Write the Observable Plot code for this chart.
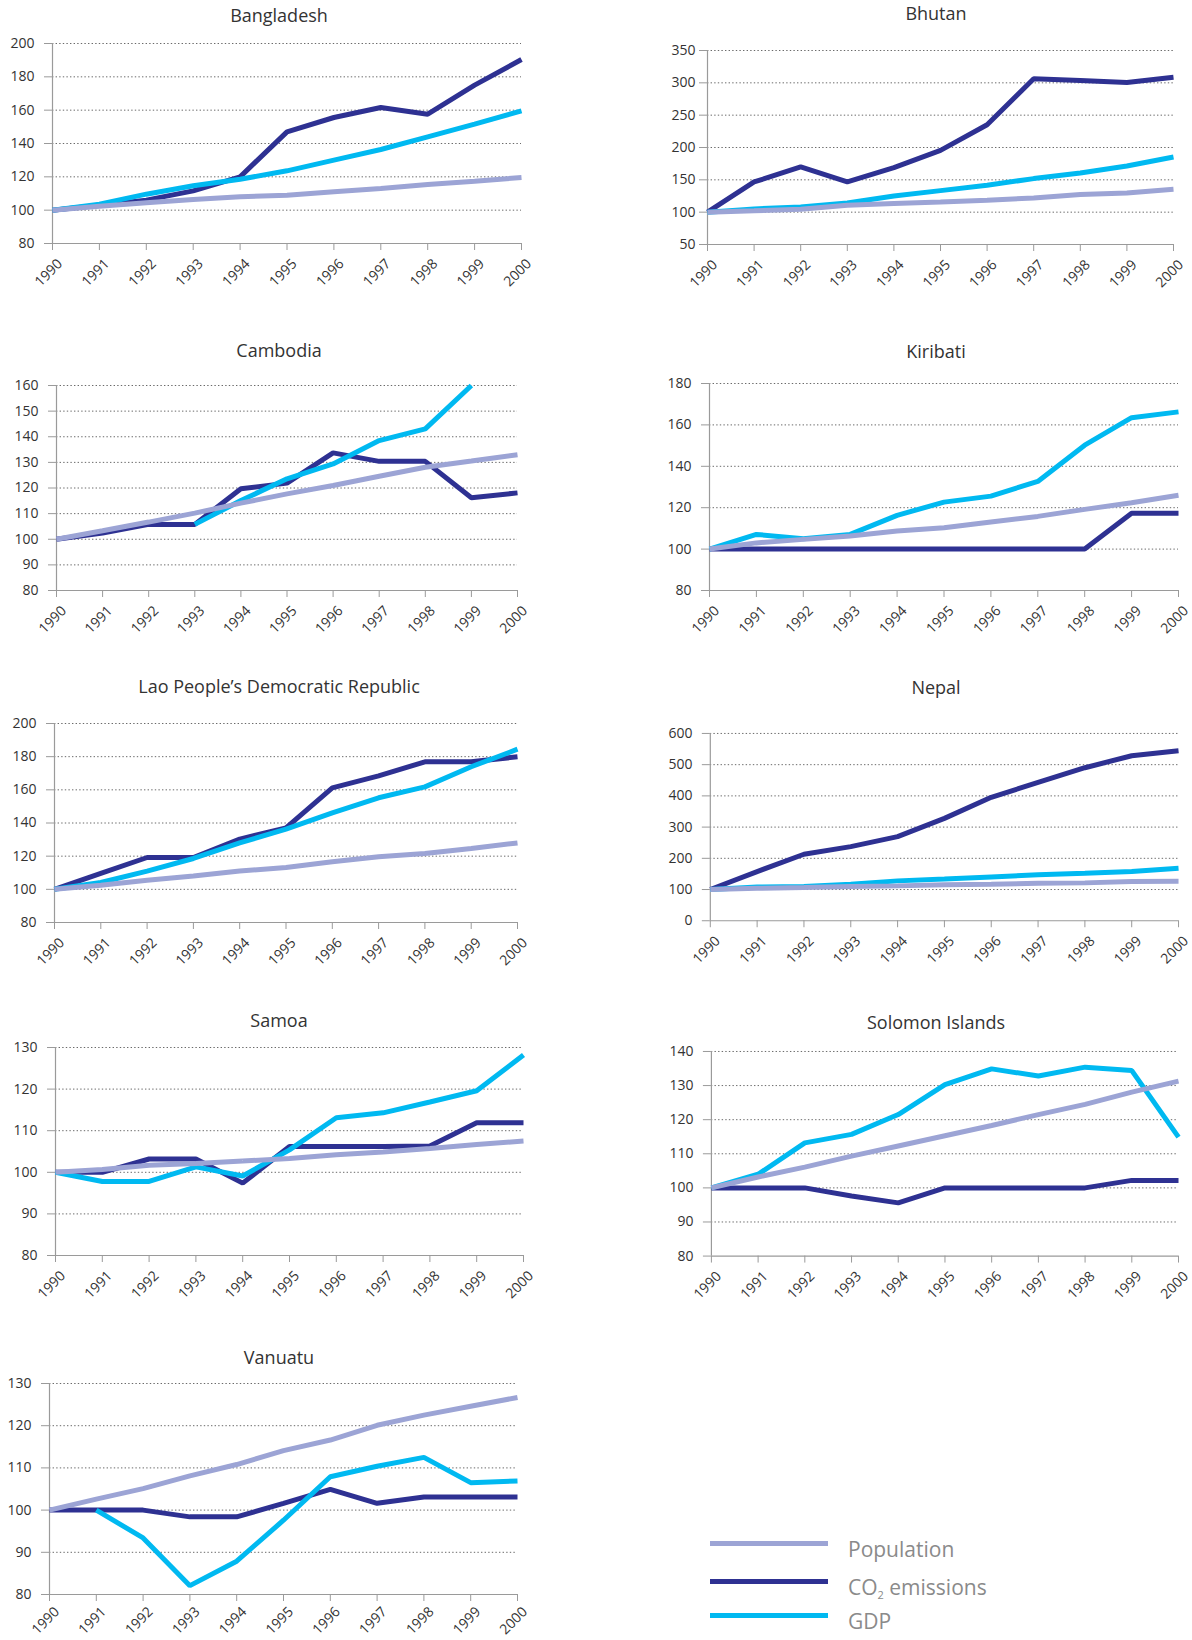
<!DOCTYPE html>
<html>
<head>
<meta charset="utf-8">
<script src="https://cdn.jsdelivr.net/npm/d3@7"></script>
<script src="https://cdn.jsdelivr.net/npm/@observablehq/plot@0.6"></script>
<style>
  body { margin: 0; background: #fff; font-family: "Open Sans", Lato, sans-serif; }
  #page { position: relative; width: 1192px; height: 1640px; overflow: hidden; }
  .panel { position: absolute; }
  .title { position: absolute; width: 460px; margin-left: -230px; text-align: center;
           font-size: 18px; color: #333; line-height: 22px; }
  .legend-bar { position: absolute; height: 5px; }
  .legend-text { position: absolute; font-size: 21px; color: #8a8a8a; line-height: 24px; }
  .legend-text sub { font-size: 11px; vertical-align: -4px; }
</style>
</head>
<body>
<div id="page"></div>
<script>
// Index values, 1990 = 100
const years = [1990, 1991, 1992, 1993, 1994, 1995, 1996, 1997, 1998, 1999, 2000];

const countries = [
  "Bangladesh", "Bhutan", "Cambodia", "Kiribati",
  "Lao People\u2019s Democratic Republic", "Nepal",
  "Samoa", "Solomon Islands", "Vanuatu"
];

const bangladeshPopulation = [100, 102.4, 104.4, 106.4, 108, 109, 111, 113, 115.4, 117.4, 119.6];
const bangladeshCO2        = [100, 103, 106, 111.6, 120, 147, 155.6, 161.6, 157.6, 175, 190.4];
const bangladeshGDP        = [100, 103.6, 109.6, 114.6, 118.6, 123.6, 130, 136.4, 144, 151.6, 159.6];
const bangladeshTicks      = [80, 100, 120, 140, 160, 180, 200];

const bhutanPopulation = [100, 102, 104.5, 110.7, 113.3, 115.8, 118.4, 122, 127.2, 129.7, 135.4];
const bhutanCO2        = [100, 146.7, 169.9, 146.7, 168.8, 195.6, 235.2, 306.3, 303.7, 300.6, 308.8];
const bhutanGDP        = [100, 105, 108, 114.3, 125, 133.3, 141.6, 151.9, 160.6, 171.4, 185.3];
const bhutanTicks      = [50, 100, 150, 200, 250, 300, 350];

const cambodiaPopulation = [100, 103.3, 106.7, 110.2, 114.1, 117.7, 121, 124.6, 128.1, 130.5, 133];
const cambodiaCO2        = [100, 102.4, 105.8, 105.8, 119.7, 121.9, 133.7, 130.4, 130.4, 116.2, 118.1];
const cambodiaGDP        = [null, null, null, 105.8, 115.1, 123.6, 129.4, 138.5, 143.1, 160, null];
const cambodiaTicks      = [80, 90, 100, 110, 120, 130, 140, 150, 160];

const kiribatiPopulation = [100, 103, 104.7, 106.3, 108.7, 110.3, 113.1, 115.8, 119.2, 122.4, 126];
const kiribatiCO2        = [100, 100, 100, 100, 100, 100, 100, 100, 100, 117.3, 117.3];
const kiribatiGDP        = [100, 107.1, 105, 107.1, 116.3, 122.7, 125.6, 132.7, 150.2, 163.5, 166.3];
const kiribatiTicks      = [80, 100, 120, 140, 160, 180];

const laoPopulation = [100, 102.5, 105.5, 108, 111, 113.2, 116.6, 119.6, 121.6, 124.6, 128];
const laoCO2        = [100, 109.6, 119.2, 119.2, 130.3, 137.1, 161.2, 168.4, 176.9, 176.9, 179.9];
const laoGDP        = [100, 104.1, 111, 118.6, 128, 136.3, 146.1, 155.2, 161.8, 173.9, 184.5];
const laoTicks      = [80, 100, 120, 140, 160, 180, 200];

const nepalPopulation = [100, 104, 106.4, 109.6, 111.7, 115, 117, 120.3, 121.3, 125.6, 126.7];
const nepalCO2        = [100, 157.6, 213, 237.5, 269.5, 328, 395.3, 443.3, 490.2, 528.6, 544.6];
const nepalGDP        = [100, 108, 109.6, 117, 127.7, 134, 140.5, 147, 152, 157.6, 168];
const nepalTicks      = [0, 100, 200, 300, 400, 500, 600];

const samoaPopulation = [100, 100.7, 101.7, 102.1, 102.7, 103.3, 104.2, 104.9, 105.7, 106.7, 107.5];
const samoaCO2        = [100, 100, 103.2, 103.2, 97.4, 106.2, 106.2, 106.2, 106.3, 111.9, 111.9];
const samoaGDP        = [100, 97.8, 97.8, 101.3, 99.1, 105.4, 113.1, 114.3, 116.9, 119.6, 128.2];
const samoaTicks      = [80, 90, 100, 110, 120, 130];

const solomonPopulation = [100, 103.2, 106.1, 109.3, 112.3, 115.3, 118.3, 121.5, 124.5, 128.1, 131.3];
const solomonCO2        = [100, 100, 100, 97.6, 95.6, 100, 100, 100, 100, 102.2, 102.2];
const solomonGDP        = [100, 104, 113.2, 115.7, 121.5, 130.3, 134.9, 132.8, 135.4, 134.4, 114.9];
const solomonTicks      = [80, 90, 100, 110, 120, 130, 140];

const vanuatuPopulation = [100, 102.6, 105.1, 108.1, 110.8, 114.1, 116.6, 120.1, 122.5, 124.6, 126.7];
const vanuatuCO2        = [100, 100, 100, 98.4, 98.4, 101.6, 104.9, 101.6, 103.1, 103.1, 103.1];
const vanuatuGDP        = [null, 100, 93.4, 82.1, 87.9, 97.6, 107.9, 110.4, 112.5, 106.5, 106.9];
const vanuatuTicks      = [80, 90, 100, 110, 120, 130];

const seriesColors = ["#9ca4d5", "#2e3192", "#00b9f1"];

// Series bundled per country, in the order of the country list
const panelData = [
  [bangladeshPopulation, bangladeshCO2, bangladeshGDP, bangladeshTicks],
  [bhutanPopulation, bhutanCO2, bhutanGDP, bhutanTicks],
  [cambodiaPopulation, cambodiaCO2, cambodiaGDP, cambodiaTicks],
  [kiribatiPopulation, kiribatiCO2, kiribatiGDP, kiribatiTicks],
  [laoPopulation, laoCO2, laoGDP, laoTicks],
  [nepalPopulation, nepalCO2, nepalGDP, nepalTicks],
  [samoaPopulation, samoaCO2, samoaGDP, samoaTicks],
  [solomonPopulation, solomonCO2, solomonGDP, solomonTicks],
  [vanuatuPopulation, vanuatuCO2, vanuatuGDP, vanuatuTicks]
];

// Plot-frame placement on the page: left, top, width, height, title centre y,
// y-label padding and year-label drop below the axis
const frames = [
  {left: 52,  top: 43,   width: 469, height: 200, titleY: 15,   pad: 10, drop: 18},
  {left: 707, top: 50,   width: 466, height: 194, titleY: 13,   pad: 4,  drop: 18},
  {left: 56,  top: 385,  width: 461, height: 205, titleY: 350,  pad: 10, drop: 18},
  {left: 709, top: 383,  width: 469, height: 207, titleY: 351,  pad: 10, drop: 18},
  {left: 54,  top: 723,  width: 463, height: 199, titleY: 686,  pad: 10, drop: 18},
  {left: 710, top: 733,  width: 470, height: 188, titleY: 687,  pad: 10, drop: 18},
  {left: 55,  top: 1047, width: 468, height: 208, titleY: 1020, pad: 10, drop: 18},
  {left: 711, top: 1051, width: 468, height: 205, titleY: 1022, pad: 10, drop: 18},
  {left: 49,  top: 1383, width: 468, height: 211, titleY: 1357, pad: 10, drop: 15}
];

const page = document.getElementById("page");
const mL = 56, mR = 14, mT = 12, mB = 62;
const font = "'Open Sans', Lato, sans-serif";

countries.forEach((name, k) => {
  const [pop, co2, gdp, ticks] = panelData[k];
  const f = frames[k];
  const rows = (arr) => years.map((year, i) => ({year, value: arr[i]}));
  const lineOpts = (color) => ({
    x: "year", y: "value", stroke: color, strokeWidth: 5,
    strokeLinejoin: "miter", strokeLinecap: "butt"
  });

  const chart = Plot.plot({
    width: f.width + mL + mR,
    height: f.height + mT + mB,
    marginLeft: mL, marginRight: mR, marginTop: mT, marginBottom: mB,
    x: {domain: [1990, 2000]},
    y: {domain: [ticks[0], ticks[ticks.length - 1]]},
    style: {fontFamily: font, fontSize: "14px", color: "#333", background: "transparent", overflow: "visible"},
    marks: [
      Plot.gridY(ticks.slice(1), {stroke: "#6a6a6a", strokeOpacity: 1, strokeDasharray: "1.4,2.2"}),
      Plot.ruleY([ticks[0]], {stroke: "#9a9a9a", strokeWidth: 1.2}),
      Plot.ruleX([1990], {stroke: "#9a9a9a", strokeWidth: 1.2}),
      Plot.axisY(ticks, {tickSize: 8, tickPadding: f.pad, stroke: "#9a9a9a", fill: "#333",
                         fontSize: 14, label: null}),
      // year ticks; the slanted year labels are a separate text mark
      Plot.axisX(years, {tickSize: 7, stroke: "#9a9a9a", tickFormat: () => "", label: null}),
      Plot.text(years, {
        x: (d) => d, frameAnchor: "bottom", text: (d) => String(d),
        rotate: -45, textAnchor: "end", lineAnchor: "middle",
        fontSize: 14, fill: "#333", dx: 7.5, dy: f.drop
      }),
      Plot.line(rows(co2), lineOpts(seriesColors[1])),
      Plot.line(rows(gdp), lineOpts(seriesColors[2])),
      Plot.line(rows(pop), lineOpts(seriesColors[0]))
    ]
  });

  const wrap = document.createElement("div");
  wrap.className = "panel";
  wrap.style.left = (f.left - mL) + "px";
  wrap.style.top = (f.top - mT) + "px";
  wrap.appendChild(chart);
  page.appendChild(wrap);

  const title = document.createElement("div");
  title.className = "title";
  title.textContent = name;
  title.style.left = (k % 2 === 0 ? 279 : 936) + "px";
  title.style.top = (f.titleY - 11) + "px";
  page.appendChild(title);
});

// Legend
const legendRows = [
  {y: 1543, label: "Population", color: seriesColors[0]},
  {y: 1581, label: "CO<sub>2</sub> emissions", color: seriesColors[1]},
  {y: 1615, label: "GDP", color: seriesColors[2]}
];
legendRows.forEach((r) => {
  const bar = document.createElement("div");
  bar.className = "legend-bar";
  bar.style.left = "710px";
  bar.style.width = "118px";
  bar.style.top = (r.y - 2.5) + "px";
  bar.style.background = r.color;
  page.appendChild(bar);
  const text = document.createElement("div");
  text.className = "legend-text";
  text.style.left = "848px";
  text.style.top = (r.y - 6) + "px";
  text.innerHTML = r.label;
  page.appendChild(text);
});
</script>
</body>
</html>
